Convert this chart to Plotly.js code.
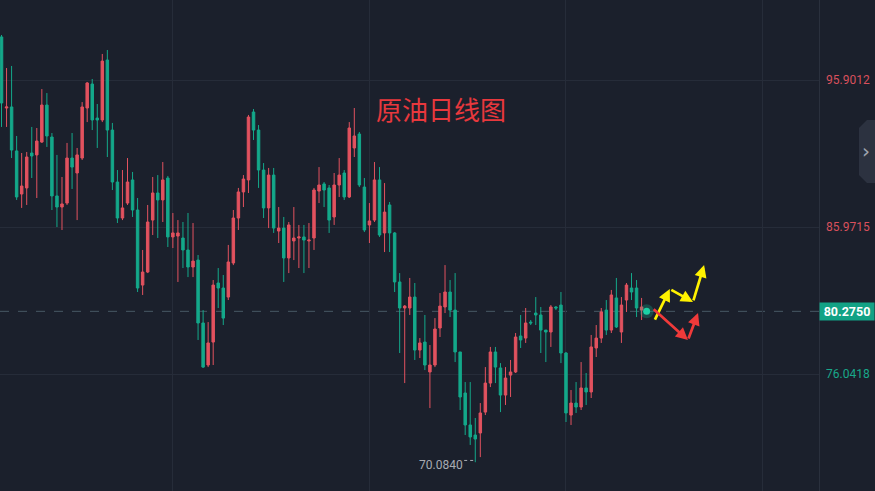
<!DOCTYPE html>
<html>
<head>
<meta charset="utf-8">
<script src="https://cdn.plot.ly/plotly-3.0.1.min.js"></script>
<style>
html,body{margin:0;padding:0;background:#1b202c;}
#chart{width:875px;height:491px;}
</style>
</head>
<body>
<div id="chart"></div>
<script>
// ---- data ----
const openP = [98.81,94.01,94.08,91.11,88.20,88.61,90.97,90.84,91.71,94.21,
92.05,88.07,87.32,87.59,90.63,89.62,90.63,94.01,95.63,93.33,
93.20,97.25,92.52,89.01,86.58,87.59,89.15,87.12,82.05,82.93,
86.44,88.27,87.80,89.28,85.30,85.36,85.23,84.42,83.27,83.74,
79.49,76.65,78.20,82.19,81.85,81.24,83.54,86.58,88.34,89.15,
93.74,92.52,89.82,87.26,89.48,85.70,85.90,83.88,85.03,85.23,
85.30,85.03,85.23,88.40,88.88,88.61,86.65,88.81,89.62,88.00,
91.31,92.25,88.67,86.11,86.44,89.15,85.57,87.46,85.57,82.26,
80.50,80.50,81.24,77.66,78.20,76.18,76.65,79.15,80.57,81.58,
80.36,77.53,74.76,72.60,71.92,72.06,73.47,75.43,77.53,76.45,
74.62,75.97,76.18,78.61,78.47,79.55,80.16,80.03,79.01,78.88,
80.57,80.70,77.46,73.27,74.08,73.81,75.10,74.83,77.80,78.47,
80.36,79.01,81.18,78.88,81.04,81.85,81.85,80.36,80.30];
const highP = [98.94,96.71,96.85,92.12,90.97,91.04,92.73,92.66,95.29,95.02,
92.32,90.84,89.35,91.65,92.32,91.31,94.41,95.77,95.97,94.28,
97.66,97.93,93.00,89.82,89.82,90.63,89.69,87.93,84.42,87.46,
89.35,89.48,90.36,89.42,86.92,86.44,86.31,86.92,86.24,84.08,
80.36,79.55,82.39,83.20,82.73,84.76,87.12,88.61,89.48,93.54,
93.94,92.86,90.29,89.96,89.96,87.32,86.65,86.31,87.32,86.11,
86.11,86.24,88.61,90.02,89.01,88.81,89.62,90.63,89.82,93.06,
94.01,92.39,89.28,87.59,90.36,90.02,88.94,87.66,85.63,82.86,
80.70,82.53,82.19,78.47,80.03,78.00,79.82,81.51,83.40,82.39,
82.86,77.53,75.50,75.50,73.07,74.08,76.51,77.87,77.87,76.78,
76.51,76.99,78.81,80.03,80.50,79.69,81.24,80.57,79.01,80.70,
80.63,81.58,77.53,74.96,75.50,76.85,76.11,78.68,79.35,80.50,
81.04,81.72,82.53,81.24,82.19,82.86,82.39,81.18,80.36];
const lowP = [92.73,92.73,90.63,87.80,87.26,87.46,89.28,87.93,91.65,91.38,
87.12,85.97,85.77,87.46,88.54,86.44,90.50,93.06,92.52,91.31,
93.06,90.70,88.47,86.24,86.44,87.46,86.65,81.58,81.38,82.86,
85.43,85.23,86.31,84.62,84.55,82.26,83.20,82.59,82.59,78.34,
76.45,76.51,76.65,80.50,79.35,81.04,83.40,85.77,87.32,88.27,
91.85,88.61,86.58,85.90,85.57,84.89,82.26,82.86,83.74,83.20,
82.86,83.20,84.42,87.59,87.32,85.57,86.11,88.00,87.80,87.93,
90.70,88.67,85.63,84.89,86.31,85.30,84.28,84.28,81.58,77.46,
75.43,80.03,76.99,77.12,76.31,73.74,76.51,78.54,80.16,79.89,
76.85,73.61,71.92,71.25,70.084,70.43,73.27,75.16,75.43,73.47,
73.95,74.49,76.11,77.80,78.14,79.35,79.35,77.46,76.85,77.87,
80.36,76.78,72.80,72.60,73.41,73.61,73.95,74.42,77.19,78.14,
78.68,78.81,79.15,78.14,80.23,81.04,79.89,79.69,80.22];
const closeP = [94.35,94.08,91.17,88.00,88.74,90.70,90.77,91.78,94.21,92.12,
88.07,87.32,87.53,90.63,90.02,90.84,94.08,95.70,93.20,93.20,
97.18,92.52,89.01,86.58,87.26,89.01,87.12,81.85,82.93,86.31,
88.27,87.80,89.15,85.30,85.57,85.57,84.42,83.27,83.67,79.49,
76.51,78.14,82.05,81.85,79.82,83.61,86.58,88.34,89.21,93.40,
92.52,89.82,87.26,89.48,85.90,85.90,83.88,86.11,85.23,85.30,
85.09,85.09,88.47,88.81,88.47,86.44,88.81,89.48,88.00,92.66,
92.12,88.81,85.77,86.38,89.15,85.43,86.98,85.57,82.26,80.50,
80.63,81.24,77.66,78.14,76.65,76.65,79.08,80.63,81.58,80.36,
77.53,74.49,72.60,71.79,71.65,73.41,75.43,77.53,76.51,74.62,
75.77,76.18,78.54,78.34,79.49,79.49,80.03,79.01,78.88,80.57,
80.50,77.46,73.41,74.08,73.81,75.10,74.83,77.87,78.47,80.23,
79.01,81.38,79.22,80.70,82.05,81.58,80.50,80.57,80.28];
const dayIndex = openP.map((_, i) => i);

const priceTicks = [95.9012, 85.9715, 76.0418];
const priceTickText = ['95.9012', '85.9715', '76.0418'];
const lastPrice = 80.2750;
const lastPriceText = '80.2750';
const minPrice = 70.0840;
const minPriceText = '70.0840';
const minIndex = 94;
const titleText = '原油日线图';

// forecast arrows (index, price)
const yellowPath = [[129.5,79.62],[132.6,81.78],[137.2,80.91],[139.4,83.40]];
const redPath = [[129.1,80.50],[136.2,78.34],[138.2,80.16]];

// ---- styling ----
const BG = '#1b202c';
const UP = '#e2525f';
const DOWN = '#14a88a';
const GRID = '#262c39';

const traces = [{
  type: 'candlestick',
  x: dayIndex, open: openP, high: highP, low: lowP, close: closeP,
  increasing: {line: {color: UP, width: 1}, fillcolor: UP},
  decreasing: {line: {color: DOWN, width: 1}, fillcolor: DOWN},
  whiskerwidth: 0,
  hoverinfo: 'none'
}, {
  type: 'scatter', mode: 'markers',
  x: [dayIndex[dayIndex.length-1]], y: [lastPrice],
  marker: {size: 14, color: 'rgba(20,200,160,0.25)'}, hoverinfo: 'none'
}, {
  type: 'scatter', mode: 'markers',
  x: [dayIndex[dayIndex.length-1]], y: [lastPrice],
  marker: {size: 7, color: '#1bd1a5'}, hoverinfo: 'none'
}];

const annotations = [];
annotations.push({
  xref: 'paper', yref: 'paper', x: 0.5385, y: 0.78,
  text: titleText, showarrow: false, xanchor: 'center', yanchor: 'middle',
  font: {family: 'Noto Sans CJK SC', size: 26, color: '#e8383d'}
});
priceTicks.forEach((p, i) => {
  annotations.push({
    xref: 'paper', yref: 'y', x: 1, y: p, xanchor: 'left', xshift: 5,
    text: priceTickText[i], showarrow: false,
    font: {family: 'Roboto', size: 12, color: p > lastPrice ? '#d9505c' : '#19a88a'}
  });
});
annotations.push({
  xref: 'paper', yref: 'y', x: 1, y: lastPrice, xanchor: 'left', xshift: 0,
  text: '<b>' + lastPriceText + '</b>', showarrow: false,
  bgcolor: '#12a285', width: 52, height: 15, borderpad: 1,
  font: {family: 'Roboto', size: 12.5, color: '#ffffff'}
});
annotations.push({
  xref: 'x', yref: 'y', x: minIndex - 2.1, y: minPrice, xanchor: 'right', yanchor: 'middle',
  yshift: -3, text: minPriceText, showarrow: false,
  font: {family: 'Roboto', size: 12, color: '#a7abb3'}
});
annotations.push({
  xref: 'paper', yref: 'paper', x: 1.0575, y: 0.692, text: '›', showarrow: false,
  xanchor: 'center', yanchor: 'middle',
  font: {family: 'DejaVu Sans', size: 20, color: '#9ea4ae'}
});
function addPath(path, color) {
  for (let i = 1; i < path.length; i++) {
    annotations.push({
      xref: 'x', yref: 'y', axref: 'x', ayref: 'y',
      x: path[i][0], y: path[i][1], ax: path[i-1][0], ay: path[i-1][1],
      showarrow: true, arrowhead: 2, arrowsize: 0.9, arrowwidth: 2.7,
      arrowcolor: color, text: '', standoff: 0, startstandoff: 0
    });
  }
}
addPath(yellowPath, '#fff200');
addPath(redPath, '#f03a3a');

const shapes = [
  {type: 'line', xref: 'paper', yref: 'y', x0: 0, x1: 1, y0: lastPrice, y1: lastPrice,
   line: {color: 'rgba(110,135,145,0.55)', width: 1, dash: 'dash'}, layer: 'below'},
  {type: 'line', xref: 'x', yref: 'y', x0: minIndex - 2.2, x1: minIndex - 0.1, y0: minPrice + 0.12, y1: minPrice + 0.12,
   line: {color: '#a7abb3', width: 1, dash: 'dot'}},
  {type: 'path', xref: 'paper', yref: 'paper',
   path: 'M 1.0684 0.7556 L 1.0586 0.7556 L 1.0488 0.7393 L 1.0488 0.6436 L 1.0586 0.6273 L 1.0684 0.6273 Z',
   fillcolor: '#2c3240', line: {width: 0}}
];

const layout = {
  width: 875, height: 491,
  margin: {l: 0, r: 56, t: 0, b: 0, pad: 0},
  paper_bgcolor: BG, plot_bgcolor: BG,
  showlegend: false,
  xaxis: {
    range: [-0.3, 162.2], showticklabels: false, ticks: '',
    tickmode: 'linear', tick0: 34, dtick: 39,
    showgrid: true, gridcolor: GRID, gridwidth: 1, zeroline: false,
    rangeslider: {visible: false}, fixedrange: true, showline: false
  },
  yaxis: {
    range: [68.14, 101.305], side: 'right', showticklabels: false, ticks: '',
    tickmode: 'array', tickvals: priceTicks,
    showgrid: true, gridcolor: GRID, gridwidth: 1, zeroline: false,
    showline: true, linecolor: '#2a303d', linewidth: 1, mirror: false, fixedrange: true
  },
  annotations: annotations,
  shapes: shapes
};

Plotly.newPlot('chart', traces, layout, {displayModeBar: false, staticPlot: true});
</script>
</body>
</html>
